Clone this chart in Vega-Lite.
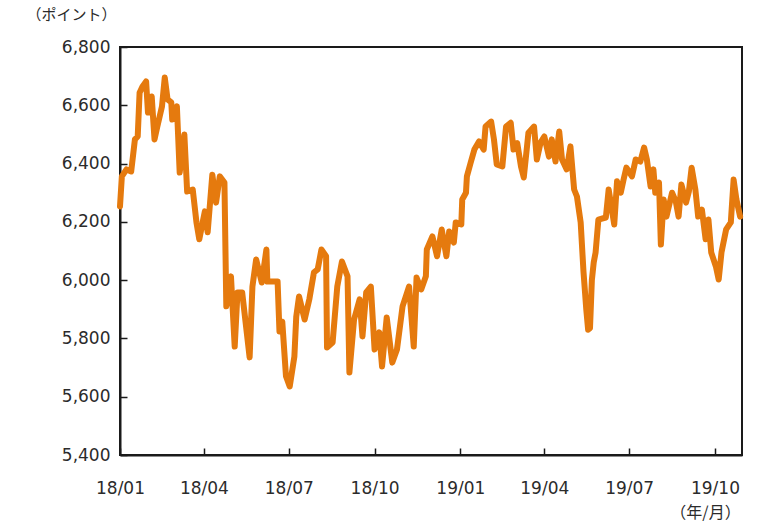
{
  "$schema": "https://vega.github.io/schema/vega-lite/v6.json",
  "width": 622,
  "height": 408,
  "autosize": "none",
  "padding": {"left": 120, "top": 47, "right": 32, "bottom": 73},
  "background": "#ffffff",
  "config": {
    "view": {"stroke": "#1a1a1a", "strokeWidth": 2},
    "font": "DejaVu Sans",
    "axis": {
      "grid": false,
      "domainColor": "#1a1a1a",
      "domainWidth": 2,
      "tickColor": "#1a1a1a",
      "tickWidth": 1.5,
      "labelFont": "DejaVu Sans",
      "labelFontSize": 17,
      "labelColor": "#2b2b2b",
      "titleFont": "Noto Sans CJK JP",
      "titleFontSize": 15,
      "titleFontWeight": "normal",
      "titleColor": "#2b2b2b"
    }
  },
  "data": {
    "values": [
      {"d": "2018-01-01", "v": 6253},
      {"d": "2018-01-03", "v": 6356},
      {"d": "2018-01-08", "v": 6380},
      {"d": "2018-01-13", "v": 6373},
      {"d": "2018-01-17", "v": 6483},
      {"d": "2018-01-20", "v": 6493},
      {"d": "2018-01-22", "v": 6643},
      {"d": "2018-01-25", "v": 6664},
      {"d": "2018-01-29", "v": 6682},
      {"d": "2018-01-31", "v": 6575},
      {"d": "2018-02-04", "v": 6630},
      {"d": "2018-02-07", "v": 6483},
      {"d": "2018-02-10", "v": 6527},
      {"d": "2018-02-15", "v": 6596},
      {"d": "2018-02-18", "v": 6695},
      {"d": "2018-02-21", "v": 6620},
      {"d": "2018-02-25", "v": 6610},
      {"d": "2018-02-26", "v": 6551},
      {"d": "2018-03-03", "v": 6596},
      {"d": "2018-03-06", "v": 6369},
      {"d": "2018-03-11", "v": 6500},
      {"d": "2018-03-14", "v": 6304},
      {"d": "2018-03-20", "v": 6311},
      {"d": "2018-03-24", "v": 6198},
      {"d": "2018-03-27", "v": 6140},
      {"d": "2018-04-02", "v": 6236},
      {"d": "2018-04-05", "v": 6164},
      {"d": "2018-04-10", "v": 6362},
      {"d": "2018-04-14", "v": 6266},
      {"d": "2018-04-18", "v": 6356},
      {"d": "2018-04-23", "v": 6335},
      {"d": "2018-04-25", "v": 5910},
      {"d": "2018-04-30", "v": 6013},
      {"d": "2018-05-04", "v": 5772},
      {"d": "2018-05-07", "v": 5958},
      {"d": "2018-05-12", "v": 5958},
      {"d": "2018-05-20", "v": 5735},
      {"d": "2018-05-23", "v": 5978},
      {"d": "2018-05-27", "v": 6071},
      {"d": "2018-06-02", "v": 5992},
      {"d": "2018-06-07", "v": 6105},
      {"d": "2018-06-08", "v": 5995},
      {"d": "2018-06-19", "v": 5995},
      {"d": "2018-06-21", "v": 5824},
      {"d": "2018-06-24", "v": 5858},
      {"d": "2018-06-28", "v": 5670},
      {"d": "2018-07-02", "v": 5635},
      {"d": "2018-07-07", "v": 5738},
      {"d": "2018-07-09", "v": 5875},
      {"d": "2018-07-12", "v": 5944},
      {"d": "2018-07-18", "v": 5865},
      {"d": "2018-07-23", "v": 5934},
      {"d": "2018-07-28", "v": 6027},
      {"d": "2018-08-01", "v": 6037},
      {"d": "2018-08-05", "v": 6105},
      {"d": "2018-08-10", "v": 6082},
      {"d": "2018-08-11", "v": 5769},
      {"d": "2018-08-17", "v": 5786},
      {"d": "2018-08-22", "v": 5978},
      {"d": "2018-08-27", "v": 6064},
      {"d": "2018-09-02", "v": 6013},
      {"d": "2018-09-04", "v": 5683},
      {"d": "2018-09-09", "v": 5865},
      {"d": "2018-09-15", "v": 5934},
      {"d": "2018-09-18", "v": 5807},
      {"d": "2018-09-22", "v": 5958},
      {"d": "2018-09-27", "v": 5978},
      {"d": "2018-10-01", "v": 5762},
      {"d": "2018-10-06", "v": 5821},
      {"d": "2018-10-09", "v": 5704},
      {"d": "2018-10-14", "v": 5872},
      {"d": "2018-10-20", "v": 5717},
      {"d": "2018-10-25", "v": 5762},
      {"d": "2018-10-31", "v": 5910},
      {"d": "2018-11-07", "v": 5978},
      {"d": "2018-11-12", "v": 5772},
      {"d": "2018-11-15", "v": 6009},
      {"d": "2018-11-20", "v": 5968},
      {"d": "2018-11-25", "v": 6013},
      {"d": "2018-11-26", "v": 6105},
      {"d": "2018-12-02", "v": 6150},
      {"d": "2018-12-07", "v": 6082},
      {"d": "2018-12-12", "v": 6174},
      {"d": "2018-12-17", "v": 6082},
      {"d": "2018-12-20", "v": 6167},
      {"d": "2018-12-25", "v": 6129},
      {"d": "2018-12-27", "v": 6198},
      {"d": "2019-01-02", "v": 6191},
      {"d": "2019-01-03", "v": 6277},
      {"d": "2019-01-07", "v": 6300},
      {"d": "2019-01-08", "v": 6356},
      {"d": "2019-01-12", "v": 6403},
      {"d": "2019-01-16", "v": 6448},
      {"d": "2019-01-21", "v": 6476},
      {"d": "2019-01-26", "v": 6448},
      {"d": "2019-01-28", "v": 6527},
      {"d": "2019-02-03", "v": 6544},
      {"d": "2019-02-06", "v": 6483},
      {"d": "2019-02-09", "v": 6397},
      {"d": "2019-02-15", "v": 6390},
      {"d": "2019-02-19", "v": 6527},
      {"d": "2019-02-24", "v": 6540},
      {"d": "2019-02-27", "v": 6448},
      {"d": "2019-03-03", "v": 6470},
      {"d": "2019-03-07", "v": 6390},
      {"d": "2019-03-10", "v": 6352},
      {"d": "2019-03-15", "v": 6506},
      {"d": "2019-03-21", "v": 6527},
      {"d": "2019-03-24", "v": 6414},
      {"d": "2019-03-28", "v": 6472},
      {"d": "2019-04-01", "v": 6493},
      {"d": "2019-04-06", "v": 6424},
      {"d": "2019-04-09", "v": 6483},
      {"d": "2019-04-13", "v": 6407},
      {"d": "2019-04-17", "v": 6510},
      {"d": "2019-04-20", "v": 6414},
      {"d": "2019-04-25", "v": 6380},
      {"d": "2019-04-29", "v": 6459},
      {"d": "2019-05-03", "v": 6311},
      {"d": "2019-05-06", "v": 6287},
      {"d": "2019-05-10", "v": 6198},
      {"d": "2019-05-13", "v": 6030},
      {"d": "2019-05-16", "v": 5900},
      {"d": "2019-05-18", "v": 5830},
      {"d": "2019-05-20", "v": 5835},
      {"d": "2019-05-22", "v": 6000},
      {"d": "2019-05-24", "v": 6061},
      {"d": "2019-05-26", "v": 6095},
      {"d": "2019-05-29", "v": 6208},
      {"d": "2019-06-06", "v": 6215},
      {"d": "2019-06-09", "v": 6311},
      {"d": "2019-06-15", "v": 6191},
      {"d": "2019-06-18", "v": 6339},
      {"d": "2019-06-22", "v": 6300},
      {"d": "2019-06-25", "v": 6345},
      {"d": "2019-06-28", "v": 6386},
      {"d": "2019-07-04", "v": 6356},
      {"d": "2019-07-08", "v": 6414},
      {"d": "2019-07-13", "v": 6407},
      {"d": "2019-07-17", "v": 6455},
      {"d": "2019-07-20", "v": 6414},
      {"d": "2019-07-24", "v": 6321},
      {"d": "2019-07-27", "v": 6380},
      {"d": "2019-07-29", "v": 6300},
      {"d": "2019-08-02", "v": 6335},
      {"d": "2019-08-04", "v": 6122},
      {"d": "2019-08-07", "v": 6277},
      {"d": "2019-08-10", "v": 6218},
      {"d": "2019-08-16", "v": 6300},
      {"d": "2019-08-20", "v": 6270},
      {"d": "2019-08-23", "v": 6218},
      {"d": "2019-08-26", "v": 6328},
      {"d": "2019-08-31", "v": 6266},
      {"d": "2019-09-03", "v": 6304},
      {"d": "2019-09-06", "v": 6386},
      {"d": "2019-09-10", "v": 6311},
      {"d": "2019-09-13", "v": 6218},
      {"d": "2019-09-17", "v": 6242},
      {"d": "2019-09-21", "v": 6140},
      {"d": "2019-09-24", "v": 6208},
      {"d": "2019-09-27", "v": 6095},
      {"d": "2019-10-02", "v": 6047},
      {"d": "2019-10-05", "v": 6002},
      {"d": "2019-10-08", "v": 6095},
      {"d": "2019-10-13", "v": 6174},
      {"d": "2019-10-18", "v": 6198},
      {"d": "2019-10-21", "v": 6345},
      {"d": "2019-10-24", "v": 6277},
      {"d": "2019-10-28", "v": 6218}
    ]
  },
  "mark": {"type": "line", "color": "#E57A0E", "strokeWidth": 6, "strokeJoin": "round", "strokeCap": "round"},
  "encoding": {
    "x": {
      "field": "d",
      "type": "temporal",
      "scale": {
        "type": "utc",
        "domain": [
          {"year": 2018, "month": 1, "date": 1, "utc": true},
          {"year": 2019, "month": 10, "date": 30, "utc": true}
        ]
      },
      "axis": {
        "values": [
          {"year": 2018, "month": 1, "date": 1, "utc": true},
          {"year": 2018, "month": 4, "date": 1, "utc": true},
          {"year": 2018, "month": 7, "date": 1, "utc": true},
          {"year": 2018, "month": 10, "date": 1, "utc": true},
          {"year": 2019, "month": 1, "date": 1, "utc": true},
          {"year": 2019, "month": 4, "date": 1, "utc": true},
          {"year": 2019, "month": 7, "date": 1, "utc": true},
          {"year": 2019, "month": 10, "date": 1, "utc": true}
        ],
        "format": "%y/%m",
        "tickSize": -7,
        "labelPadding": 32,
        "labelFlush": false,
        "labelOverlap": false,
        "title": "（年/月）",
        "titleX": 585,
        "titleY": 57,
        "titleAlign": "center",
        "titleBaseline": "middle",
        "titleFontSize": 16
      }
    },
    "y": {
      "field": "v",
      "type": "quantitative",
      "scale": {"domain": [5400, 6800], "nice": false, "zero": false},
      "axis": {
        "values": [5400, 5600, 5800, 6000, 6200, 6400, 6600, 6800],
        "format": ",.0f",
        "tickSize": -7,
        "labelPadding": 17,
        "title": "（ポイント）",
        "titleAngle": 0,
        "titleX": -49,
        "titleY": -33,
        "titleAlign": "center",
        "titleBaseline": "middle"
      }
    }
  }
}
